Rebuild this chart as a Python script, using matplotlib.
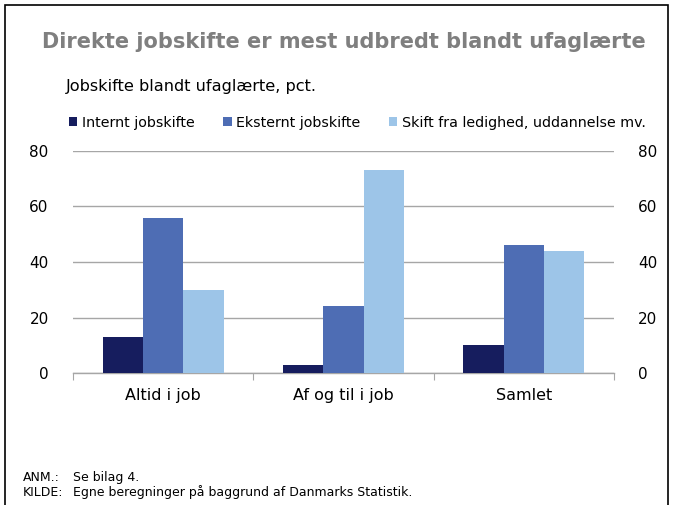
import matplotlib
matplotlib.use("Agg")
import matplotlib.pyplot as plt
from matplotlib.patches import Rectangle, Patch
import numpy as np

categories = ["Altid i job", "Af og til i job", "Samlet"]
series_names = ["Internt jobskifte", "Eksternt jobskifte", "Skift fra ledighed, uddannelse mv."]
internt = [13, 3, 10]
eksternt = [56, 24, 46]
skift = [30, 73, 44]
yticks = [0, 20, 40, 60, 80]

colors = ["#161d5e", "#4e6db4", "#9dc5e8"]

plt.rcParams['font.family'] = ['DejaVu Sans']
fig = plt.figure(figsize=(6.74, 5.05), dpi=100)
ax = fig.add_axes([73/674, 1-373/505, (614-73)/674, (373-151)/505])

x = np.arange(len(categories))
w = 0.224
for i, (vals, c) in enumerate(zip([internt, eksternt, skift], colors)):
    ax.bar(x + (i-1)*w, vals, width=w, color=c, zorder=3)

ax.set_xlim(-0.5, 2.5)
ax.set_ylim(0, 80)
ax.set_yticks(yticks)
ax.yaxis.grid(True, color="#a6a6a6", linewidth=1)
ax.set_axisbelow(True)
for s in ["top", "left", "right"]:
    ax.spines[s].set_visible(False)
ax.spines["bottom"].set_color("#a6a6a6")
ax.spines["bottom"].set_linewidth(1)
ax.tick_params(axis="y", left=False, right=False, labelleft=True, labelright=True,
               labelsize=11, colors="black")
ax.yaxis.set_tick_params(pad=14)
ax.set_xticks([-0.5, 0.5, 1.5, 2.5])
ax.set_xticklabels([])
ax.tick_params(axis="x", which="major", length=5, color="#a6a6a6", direction="out")
ax.set_xticks(x, minor=True)
ax.set_xticklabels(categories, minor=True)
ax.tick_params(axis="x", which="minor", length=0, labelsize=11.5, pad=11)

# frame
fig.patches.append(Rectangle((5/674, -0.01), (668-5)/674, 1-5/505+0.01,
                             transform=fig.transFigure, fill=False,
                             edgecolor="black", linewidth=1.2))

fig.text(343.5/674, 1-42/505, "Direkte jobskifte er mest udbredt blandt ufaglærte",
         ha="center", va="center", fontsize=15, fontweight="bold", color="#7f7f7f")
fig.text(66/674, 1-86/505, "Jobskifte blandt ufaglærte, pct.", ha="left", va="center",
         fontsize=11.6)

handles = [Patch(facecolor=c, edgecolor="none") for c in colors]
fig.legend(handles, series_names, loc="center left", bbox_to_anchor=(63/674, 1-123/505),
           ncol=3, frameon=False, fontsize=10.3, handlelength=0.6, handleheight=0.6,
           handletextpad=0.3, columnspacing=2.0, borderaxespad=0)

fig.text(23/674, 1-481/505, "ANM.:", ha="left", va="baseline", fontsize=9)
fig.text(73/674, 1-481/505, "Se bilag 4.", ha="left", va="baseline", fontsize=9)
fig.text(23/674, 1-496/505, "KILDE:", ha="left", va="baseline", fontsize=9)
fig.text(73/674, 1-496/505, "Egne beregninger på baggrund af Danmarks Statistik.",
         ha="left", va="baseline", fontsize=9)

fig.savefig("out.png", dpi=100)
